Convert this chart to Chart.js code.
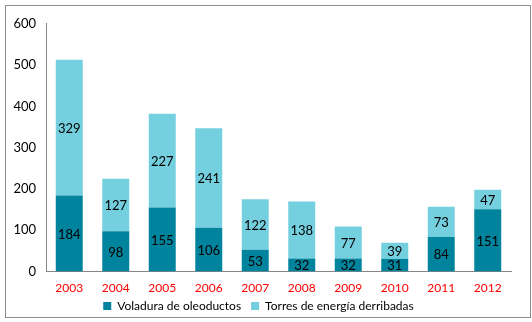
<!DOCTYPE html>
<html>
<head>
<meta charset="utf-8">
<script src="https://cdn.jsdelivr.net/npm/chart.js@4"></script>
<style>
  body { margin: 0; background: #fff; }
  #frame {
    position: absolute; left: 5px; top: 5px;
    width: 524px; height: 311px;
    border: 1px solid #8c8c8c;
  }
  #chart { display: block; }
</style>
</head>
<body>
<div id="frame"><canvas id="chart" width="524" height="311"></canvas></div>
<script>
const years = ['2003', '2004', '2005', '2006', '2007', '2008', '2009', '2010', '2011', '2012'];
const voladuras = [184, 98, 155, 106, 53, 32, 32, 31, 84, 151];
const torres = [329, 127, 227, 241, 122, 138, 77, 39, 73, 47];
const yTicks = [0, 100, 200, 300, 400, 500, 600];

const FONT = 'Lato, "Liberation Sans", sans-serif';

// writes each segment's value in the middle of its bar
const barValues = {
  id: 'barValues',
  afterDatasetsDraw(chart) {
    const ctx = chart.ctx;
    ctx.save();
    ctx.font = '13px ' + FONT;
    ctx.fillStyle = '#000';
    ctx.textAlign = 'center';
    ctx.textBaseline = 'middle';
    chart.data.datasets.forEach((ds, i) => {
      chart.getDatasetMeta(i).data.forEach((bar, j) => {
        const mid = (bar.y + bar.base) / 2;
        ctx.fillText(String(ds.data[j]), bar.x, mid + 1);
      });
    });
    ctx.restore();
  }
};

// pulls the legend a little closer to the year labels
const legendNudge = {
  id: 'legendNudge',
  afterLayout(chart) {
    const lg = chart.legend;
    if (!lg) return;
    lg.top -= 8;
    lg.bottom -= 8;
    (lg.legendHitBoxes || []).forEach((box) => { box.top -= 8; });
  }
};

new Chart(document.getElementById('chart').getContext('2d'), {
  type: 'bar',
  data: {
    labels: years,
    datasets: [
      {
        label: 'Voladura de oleoductos',
        data: voladuras,
        backgroundColor: '#00839c',
      },
      {
        label: 'Torres de energía derribadas',
        data: torres,
        backgroundColor: '#74cfdf',
      },
    ],
  },
  options: {
    responsive: false,
    animation: false,
    devicePixelRatio: 1,
    layout: { padding: { left: 0, right: 19, top: 2, bottom: -13 } },
    datasets: {
      bar: { categoryPercentage: 1, barPercentage: 0.58 },
    },
    plugins: {
      tooltip: { enabled: false },
      legend: {
        position: 'bottom',
        labels: {
          boxWidth: 8,
          boxHeight: 8,
          padding: 10,
          color: '#000',
          font: { family: FONT, size: 12 },
        },
      },
    },
    scales: {
      x: {
        stacked: true,
        grid: { display: false, drawTicks: false },
        border: { display: true, color: '#868686' },
        ticks: { color: '#ff0000', font: { family: FONT, size: 12 }, padding: 9, maxRotation: 0 },
        afterFit: (axis) => { axis.height -= 6; },
      },
      y: {
        stacked: true,
        min: 0,
        max: 600,
        grid: { display: false, drawTicks: false },
        border: { display: true, color: '#868686' },
        afterBuildTicks: (axis) => { axis.ticks = yTicks.map((v) => ({ value: v })); },
        ticks: { color: '#000', font: { family: FONT, size: 13 }, padding: 10 },
        afterFit: (axis) => { axis.width = 40; },
      },
    },
  },
  plugins: [barValues, legendNudge],
});
</script>
</body>
</html>
